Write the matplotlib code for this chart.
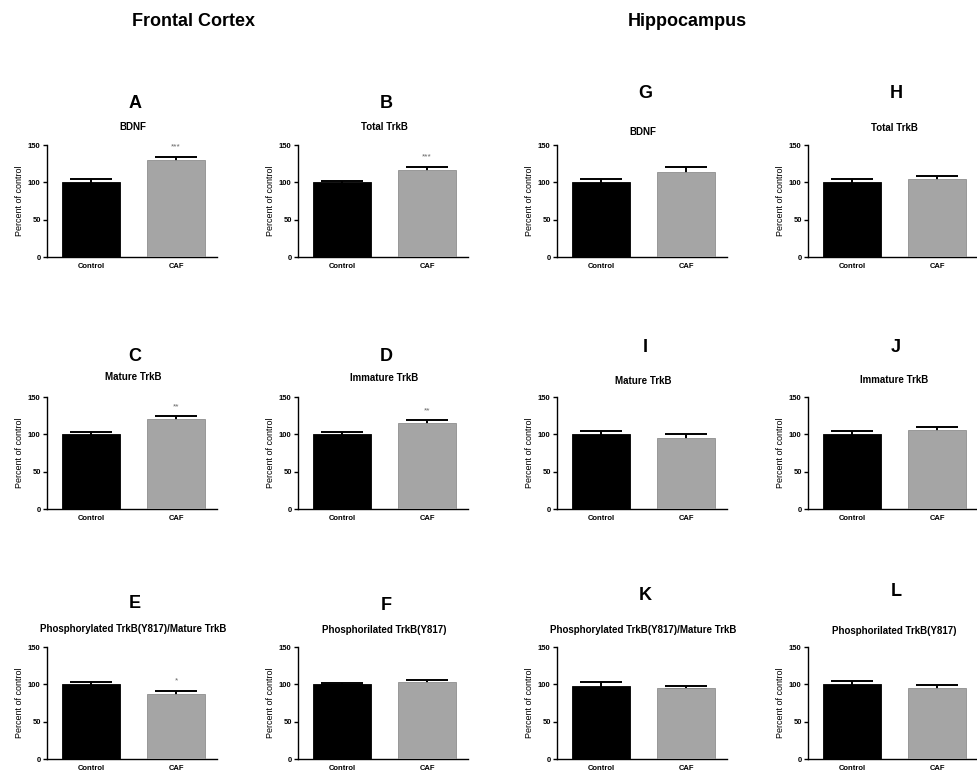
import matplotlib.pyplot as plt
import numpy as np

plt.rcParams['font.family'] = ['Liberation Sans', 'DejaVu Sans']

# data (percent of control)
groups = ['Control', 'CAF']
letters = ['A', 'B', 'C', 'D', 'E', 'F', 'G', 'H', 'I', 'J', 'K', 'L']
titles = ['BDNF', 'Total TrkB', 'Mature TrkB', 'Immature TrkB',
          'Phosphorylated TrkB(Y817)/Mature TrkB', 'Phosphorilated TrkB(Y817)',
          'BDNF', 'Total TrkB', 'Mature TrkB', 'Immature TrkB',
          'Phosphorylated TrkB(Y817)/Mature TrkB', 'Phosphorilated TrkB(Y817)']
control_mean = [100, 100, 100, 100, 100, 100, 100, 100, 100, 100, 98, 100]
control_err = [4, 2, 3, 2.5, 3, 1.5, 5, 5, 4.5, 4.5, 5, 4.5]
caf_mean = [129.5, 117, 120, 115, 87, 103, 114, 104, 95.5, 106, 95.5, 95]
caf_err = [5, 4, 4, 4, 4.5, 2.5, 7, 4, 4.5, 4, 2, 4]
stars = ['***', '***', '**', '**', '*', '', '', '', '', '', '', '']
headers = ['Frontal Cortex', 'Hippocampus']

# layout in pixels of the 978x774 picture
W, H = 978, 774
col_left = [47, 298, 557, 808]
row_bottom = [257, 509, 759]
ax_w, ax_h = 170, 112
# (row, col) for each panel
where = [(0, 0), (0, 1), (1, 0), (1, 1), (2, 0), (2, 1),
         (0, 2), (0, 3), (1, 2), (1, 3), (2, 2), (2, 3)]
letter_y = [103, 103, 357, 357, 603, 605, 93, 93, 348, 348, 595, 592]
title_y = [127, 127, 377, 378, 629, 630, 132, 128, 381, 380, 630, 631]

fig = plt.figure(figsize=(W / 100, H / 100), dpi=100)

fig.text(194 / W, 1 - 22 / H, headers[0], ha='center', va='center',
         fontsize=13, fontweight='bold')
fig.text(687 / W, 1 - 22 / H, headers[1], ha='center', va='center',
         fontsize=13, fontweight='bold')

for i in range(len(letters)):
    r, c = where[i]
    left = col_left[c]
    ax = fig.add_axes([left / W, 1 - row_bottom[r] / H, ax_w / W, ax_h / H])
    x = np.arange(len(groups))
    means = [control_mean[i], caf_mean[i]]
    errs = [control_err[i], caf_err[i]]
    # bars drawn over the error bars so only the upper half shows
    ax.bar(x, means, width=0.68, color=['black', '#a5a5a5'],
           edgecolor=['black', '#8f8f8f'], linewidth=0.6, zorder=3)
    ax.errorbar(x, means, yerr=errs, fmt='none', ecolor='black',
                elinewidth=1.4, capsize=15, capthick=1.4, zorder=2)
    if stars[i]:
        ax.text(1, means[1] + errs[1] + 13, stars[i], ha='center',
                va='center', fontsize=6, color='#666666')

    ax.set_xlim(-0.52, 1.48)
    ax.set_ylim(0, 150)
    ax.set_yticks([0, 50, 100, 150])
    ax.set_xticks(x)
    ax.set_xticklabels(groups)
    ax.spines['top'].set_visible(False)
    ax.spines['right'].set_visible(False)
    ax.spines['left'].set_linewidth(1)
    ax.spines['bottom'].set_linewidth(1)
    ax.tick_params(axis='y', length=3, width=1, labelsize=5.5, pad=1.5)
    ax.tick_params(axis='x', length=0, labelsize=5.5, pad=4)
    for lab in ax.get_xticklabels() + ax.get_yticklabels():
        lab.set_fontweight('bold')
    ax.set_ylabel('Percent of control', fontsize=6.5, labelpad=3)

    cx = (left + ax_w / 2 + 3) / W
    fig.text(cx, 1 - letter_y[i] / H, letters[i], ha='center', va='center',
             fontsize=13, fontweight='bold')
    fig.text(cx - 2 / W, 1 - title_y[i] / H, titles[i], ha='center',
             va='center', fontsize=7, fontweight='bold')

fig.savefig('out.png', dpi=100)
